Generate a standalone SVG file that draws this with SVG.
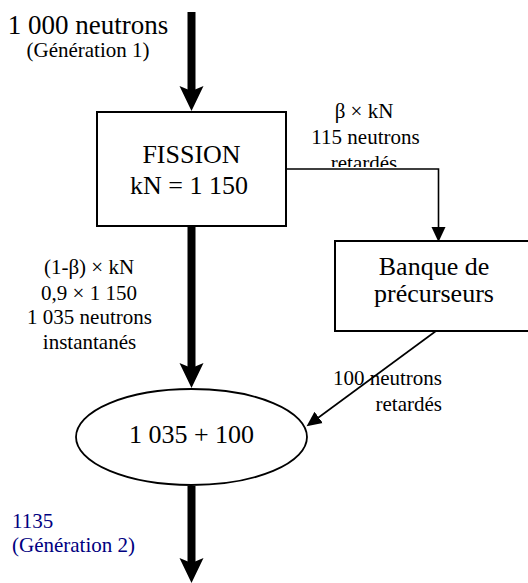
<svg xmlns="http://www.w3.org/2000/svg" width="528" height="583" viewBox="0 0 528 583">
  <style>
    text { fill: #000; text-anchor: middle; }
    .big { font-size: 26px; }
    .lbl { font-size: 21px; }
    .blue { fill: #000080; text-anchor: start; }
    .box { fill: #fff; stroke: #000; stroke-width: 2; }
    .thick { stroke: #000; stroke-width: 8; fill: none; }
    .thin { stroke: #000; stroke-width: 1.6; fill: none; }
  </style>
  <defs>
    <marker id="headThick" markerUnits="userSpaceOnUse" markerWidth="26" markerHeight="26" viewBox="0 0 26 26" refX="6" refY="13" orient="auto">
      <path d="M0,1 L25,13 L0,25 L5,13 Z" fill="#000"/>
    </marker>
    <marker id="headThin" markerUnits="userSpaceOnUse" markerWidth="16" markerHeight="16" viewBox="0 0 16 16" refX="12" refY="8" orient="auto">
      <path d="M0,1 L15,8 L0,15 Z" fill="#000"/>
    </marker>
    <clipPath id="clipRetardes">
      <rect x="300" y="150" width="140" height="17"/>
    </clipPath>
  </defs>

  <!-- connectors -->
  <g id="connectors">
    <line class="thick" x1="191.5" y1="12" x2="191.5" y2="92" marker-end="url(#headThick)"/>
    <line class="thick" x1="191.5" y1="227" x2="191.5" y2="369" marker-end="url(#headThick)"/>
    <line class="thick" x1="191.5" y1="486" x2="191.5" y2="564" marker-end="url(#headThick)"/>
    <polyline class="thin" points="286,169 438.5,169 438.5,239" marker-end="url(#headThin)"/>
    <line class="thin" x1="436" y1="331" x2="309" y2="424.5" marker-end="url(#headThin)"/>
  </g>

  <g font-family="Liberation Serif, Tinos, Times New Roman, DejaVu Serif, serif">
    <!-- source generation -->
    <g id="generation1">
      <text class="big" x="88" y="34" style="font-size:27px">1 000 neutrons</text>
      <text class="lbl" x="88" y="57">(Génération 1)</text>
    </g>

    <!-- fission node -->
    <g id="fission">
      <rect class="box" x="97" y="112" width="189" height="114"/>
      <text class="big" x="191.5" y="163">FISSION</text>
      <text class="big" x="189" y="194">kN = 1 150</text>
    </g>

    <!-- delayed fraction label -->
    <g id="delayedLabel">
      <text class="lbl" x="364" y="118">β × kN</text>
      <text class="lbl" x="365.5" y="144">115 neutrons</text>
      <text class="lbl" x="364" y="170" clip-path="url(#clipRetardes)">retardés</text>
    </g>

    <!-- precursor bank node -->
    <g id="banque">
      <rect class="box" x="335" y="241" width="198" height="90"/>
      <text class="big" x="434" y="275">Banque de</text>
      <text class="big" x="434" y="302">précurseurs</text>
    </g>

    <!-- prompt fraction label -->
    <g id="promptLabel">
      <text class="lbl" x="89" y="274">(1-β) × kN</text>
      <text class="lbl" x="89" y="300">0,9 × 1 150</text>
      <text class="lbl" x="89.5" y="324">1 035 neutrons</text>
      <text class="lbl" x="89.5" y="349">instantanés</text>
    </g>

    <!-- delayed return label -->
    <g id="returnLabel">
      <text class="lbl" x="442" y="385" style="text-anchor:end">100 neutrons</text>
      <text class="lbl" x="442" y="411" style="text-anchor:end">retardés</text>
    </g>

    <!-- sum node -->
    <g id="somme">
      <ellipse cx="191.5" cy="437" rx="115.5" ry="48" fill="#fff" stroke="#000" stroke-width="1.8"/>
      <text class="big" x="191.5" y="443">1 035 + 100</text>
    </g>

    <!-- next generation -->
    <g id="generation2">
      <text class="lbl blue" x="12" y="528">1135</text>
      <text class="lbl blue" x="12" y="552">(Génération 2)</text>
    </g>
  </g>
</svg>
